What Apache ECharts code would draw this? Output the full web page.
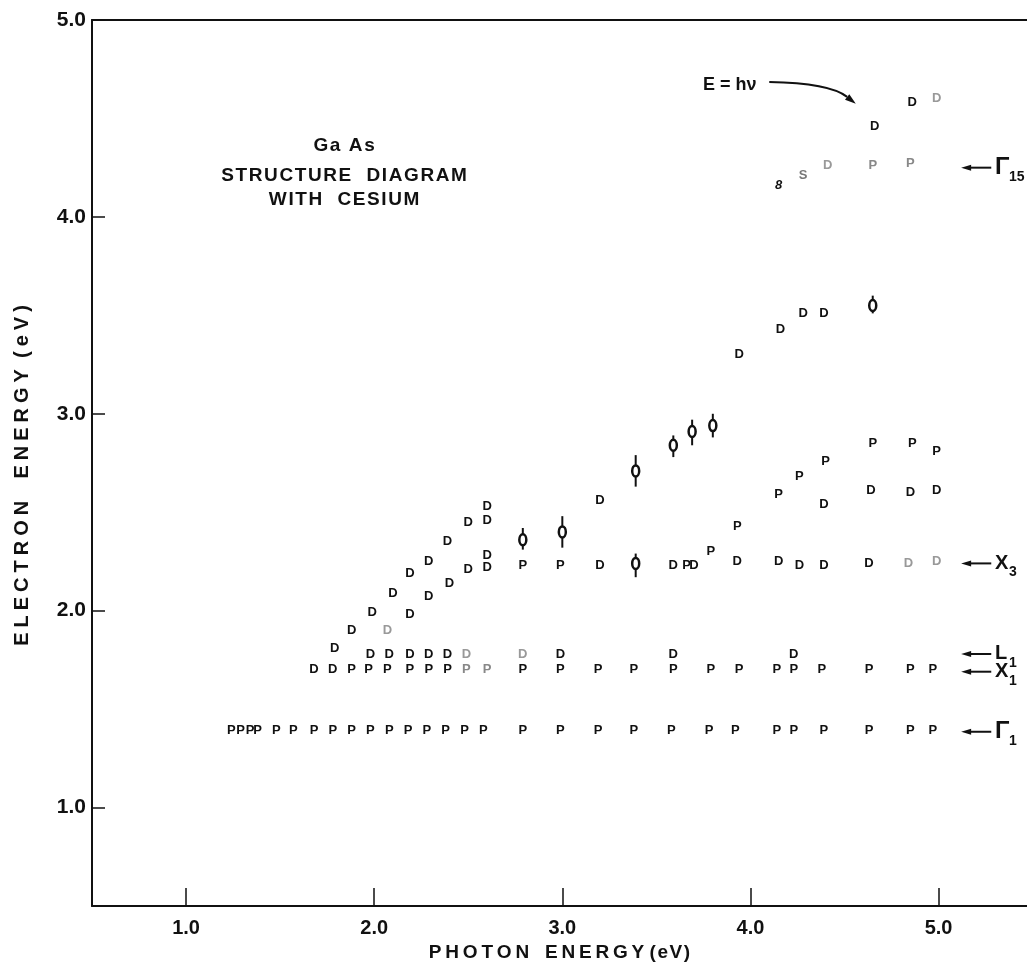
<!DOCTYPE html>
<html><head><meta charset="utf-8">
<script src="https://cdn.jsdelivr.net/npm/echarts@6/dist/echarts.min.js"></script>
<style>html,body{margin:0;padding:0;background:#fff}#c{width:1027px;height:969px}</style>
</head><body><div id="c"></div>
<script>
// ---- data ----
const xTicks = [1.0, 2.0, 3.0, 4.0, 5.0];
const yTicks = [1.0, 2.0, 3.0, 4.0, 5.0];

// "P" points (photoemission peaks)
const pPoints = [
  // Γ1 row
  [1.24,1.39],[1.29,1.39],[1.34,1.39],[1.38,1.39],[1.48,1.39],[1.57,1.39],[1.68,1.39],[1.78,1.39],
  [1.88,1.39],[1.98,1.39],[2.08,1.39],[2.18,1.39],[2.28,1.39],[2.38,1.39],[2.48,1.39],[2.58,1.39],
  [2.79,1.39],[2.99,1.39],[3.19,1.39],[3.38,1.39],[3.58,1.39],[3.78,1.39],[3.92,1.39],[4.14,1.39],
  [4.23,1.39],[4.39,1.39],[4.63,1.39],[4.85,1.39],[4.97,1.39],
  // X1 row
  [1.88,1.70],[1.97,1.70],[2.07,1.70],[2.19,1.70],[2.29,1.70],[2.39,1.70],
  [2.79,1.70],[2.99,1.70],[3.19,1.70],[3.38,1.70],[3.59,1.70],[3.79,1.70],[3.94,1.70],[4.14,1.70],
  [4.23,1.70],[4.38,1.70],[4.63,1.70],[4.85,1.70],[4.97,1.70],
  // X3 row
  [2.79,2.23],[2.99,2.23],[3.66,2.23],[3.79,2.30],
  // middle branch
  [3.93,2.43],[4.15,2.59],[4.26,2.68],[4.40,2.76],[4.65,2.85],[4.86,2.85],[4.99,2.81]
];
const pFaint = [[2.49,1.70],[2.60,1.70],[4.65,4.26],[4.85,4.27]];

// "D" points
const dPoints = [
  // upper rising branch
  [1.79,1.81],[1.88,1.90],[1.99,1.99],[2.10,2.09],[2.19,2.19],[2.29,2.25],[2.39,2.35],[2.50,2.45],[2.60,2.46],[2.60,2.53],
  // lower rising branch
  [2.19,1.98],[2.29,2.07],[2.40,2.14],[2.50,2.21],[2.60,2.22],[2.60,2.28],
  // X1 row
  [1.68,1.70],[1.78,1.70],
  // L1 row
  [1.98,1.78],[2.08,1.78],[2.19,1.78],[2.29,1.78],[2.39,1.78],[2.99,1.78],[3.59,1.78],[4.23,1.78],
  // X3 row
  [3.20,2.23],[3.59,2.23],[3.70,2.23],[3.93,2.25],[4.15,2.25],[4.26,2.23],[4.39,2.23],[4.63,2.24],
  // upper continuation
  [3.20,2.56],[3.94,3.30],[4.16,3.43],[4.28,3.51],[4.39,3.51],
  // middle branch
  [4.39,2.54],[4.64,2.61],[4.85,2.60],[4.99,2.61],
  // top
  [4.66,4.46],[4.86,4.58]
];
const dFaint = [[2.07,1.90],[2.49,1.78],[2.79,1.78],[4.84,2.24],[4.99,2.25],[4.99,4.60],[4.41,4.26]];

// points with error bars: [x, y, low, high]
const errPoints = [
  [2.79,2.36,2.31,2.42],[3.00,2.40,2.32,2.48],[3.39,2.71,2.63,2.79],[3.39,2.24,2.17,2.29],
  [3.59,2.84,2.78,2.89],[3.69,2.91,2.84,2.97],[3.80,2.94,2.88,3.00],[4.65,3.55,3.51,3.60]
];
// odd marks: [x, y, char]
const oddPoints = [[4.15,4.16,'8'],[4.28,4.21,'S']];

// level markers on the right: [y, symbol, subscript]
const levels = [[4.25,'Γ','15'],[2.24,'X','3'],[1.78,'L','1'],[1.69,'X','1'],[1.385,'Γ','1']];
const levelArrowX = [5.12, 5.28];
const levelTextX = 5.30;

// annotation text block
const notes = [[1.84,4.36,'Ga As'],[1.84,4.21,'STRUCTURE  DIAGRAM'],[1.84,4.085,'WITH  CESIUM']];
// E = hν label and its curved arrow (start, control, end)
const eLabel = [3.89, 4.67, 'E = hν'];
const eArrow = [[4.10,4.685],[4.42,4.68],[4.56,4.575]];

// ---- chart ----
const FONT = '"Liberation Sans", Arial, sans-serif';
const spread = (s, sp) => s.split('').join(sp);
const chart = echarts.init(document.getElementById('c'), null, {renderer:'canvas'});

function letterSeries(data, ch, color){
  return {
    type:'custom', data: data, silent:true, clip:false,
    renderItem:(p, api) => {
      const c = api.coord([api.value(0), api.value(1)]);
      return {type:'text', x:c[0], y:c[1],
        style:{text: ch, fill: color, fontFamily: FONT, fontSize: 13, fontWeight:'bold', align:'center', verticalAlign:'middle'}};
    }
  };
}

const option = {
  animation:false,
  backgroundColor:'#fff',
  grid:{left:92, right:0, top:20, bottom:63, containLabel:false},
  xAxis:[{
    type:'value', min:0.5, max:5.47, position:'bottom',
    axisLine:{show:true, lineStyle:{color:'#111', width:2}},
    axisTick:{show:true, inside:true, length:18, lineStyle:{color:'#111', width:1.5}, customValues: xTicks},
    axisLabel:{show:true, margin:12, color:'#111', fontFamily:FONT, fontSize:20, fontWeight:'bold',
      customValues: xTicks, formatter: v => v.toFixed(1)},
    splitLine:{show:false},
    name: spread('PHOTON', '\u2009') + '   ' + spread('ENERGY', '\u2009') + ' ' + spread('(eV)', '\u200A'),
    nameLocation:'middle', nameGap:35,
    nameTextStyle:{color:'#111', fontFamily:FONT, fontSize:19, fontWeight:'bold'}
  },{
    type:'value', min:0.5, max:5.47, position:'top',
    axisLine:{show:true, lineStyle:{color:'#111', width:2}},
    axisTick:{show:false}, axisLabel:{show:false}, splitLine:{show:false}
  }],
  yAxis:{
    type:'value', min:0.5, max:5.0,
    axisLine:{show:true, lineStyle:{color:'#111', width:2}},
    axisTick:{show:true, inside:true, length:13, lineStyle:{color:'#111', width:1.5}, customValues: yTicks},
    axisLabel:{show:true, margin:6, color:'#111', fontFamily:FONT, fontSize:21, fontWeight:'bold',
      customValues: yTicks, formatter: v => v.toFixed(1)},
    splitLine:{show:false},
    name: spread('ELECTRON', '\u2005') + '    ' + spread('ENERGY', '\u2005') + '  ' + spread('(eV)', '\u2005') + '\u2005\u2005\u2005\u2005\u2005',
    nameLocation:'middle', nameGap:60, nameRotate:90,
    nameTextStyle:{color:'#111', fontFamily:FONT, fontSize:20, fontWeight:'bold'}
  },
  series:[
    letterSeries(pPoints, 'P', '#111'),
    letterSeries(pFaint, 'P', '#888'),
    letterSeries(dPoints, 'D', '#111'),
    letterSeries(dFaint, 'D', '#999'),
    {
      type:'custom', data: oddPoints.map(d => [d[0], d[1]]), silent:true, clip:false,
      renderItem:(p, api) => {
        const c = api.coord([api.value(0), api.value(1)]);
        return {type:'text', x:c[0], y:c[1],
          style:{text: oddPoints[p.dataIndex][2], fill: p.dataIndex === 0 ? '#111' : '#777', fontFamily: FONT,
            fontSize: 13, fontWeight:'bold', fontStyle: p.dataIndex === 0 ? 'italic' : 'normal', align:'center', verticalAlign:'middle'}};
      }
    },
    {
      type:'custom', data: errPoints, silent:true, clip:false,
      renderItem:(p, api) => {
        const c = api.coord([api.value(0), api.value(1)]);
        const lo = api.coord([api.value(0), api.value(2)]);
        const hi = api.coord([api.value(0), api.value(3)]);
        return {type:'group', children:[
          {type:'line', shape:{x1:c[0], y1:hi[1], x2:c[0], y2:lo[1]}, style:{stroke:'#111', lineWidth:2}},
          {type:'ellipse', shape:{cx:c[0], cy:c[1], rx:3.5, ry:5.5}, style:{fill:'#fff', stroke:'#111', lineWidth:2.5}}
        ]};
      }
    },
    {
      type:'custom', data: levels.map(l => [levelTextX, l[0]]), silent:true, clip:false,
      renderItem:(p, api) => {
        const lv = levels[p.dataIndex];
        const a = api.coord([levelArrowX[0], lv[0]]);
        const b = api.coord([levelArrowX[1], lv[0]]);
        const t = api.coord([levelTextX, lv[0]]);
        const big = lv[1] === 'Γ';
        return {type:'group', children:[
          {type:'line', shape:{x1:a[0]+6, y1:a[1], x2:b[0], y2:b[1]}, style:{stroke:'#111', lineWidth:2}},
          {type:'polygon', shape:{points:[[a[0],a[1]],[a[0]+10,a[1]-3],[a[0]+10,a[1]+3]]}, style:{fill:'#111'}},
          {type:'text', x:t[0], y:t[1], style:{text: lv[1], fill:'#111', fontFamily:FONT, fontSize: big ? 24 : 20,
            fontWeight:'bold', align:'left', verticalAlign:'middle'}},
          {type:'text', x:t[0] + 14, y:t[1] + 9, style:{text: lv[2], fill:'#111', fontFamily:FONT,
            fontSize: 14, fontWeight:'bold', align:'left', verticalAlign:'middle'}}
        ]};
      }
    },
    {
      type:'custom', data: notes.map(n => [n[0], n[1]]), silent:true, clip:false,
      renderItem:(p, api) => {
        const c = api.coord([api.value(0), api.value(1)]);
        return {type:'text', x:c[0], y:c[1], style:{text: spread(notes[p.dataIndex][2], '\u200A'), fill:'#111', fontFamily:FONT,
          fontSize:19, fontWeight:'bold', align:'center', verticalAlign:'middle'}};
      }
    },
    {
      type:'custom', data: [[eLabel[0], eLabel[1]]], silent:true, clip:false,
      renderItem:(p, api) => {
        const c = api.coord([eLabel[0], eLabel[1]]);
        const s = api.coord(eArrow[0]);
        const cp = api.coord(eArrow[1]);
        const e = api.coord(eArrow[2]);
        const ang = Math.atan2(e[1]-cp[1], e[0]-cp[0]);
        const L = 11, W = 3.5;
        const bx = e[0] - L*Math.cos(ang), by = e[1] - L*Math.sin(ang);
        return {type:'group', children:[
          {type:'text', x:c[0], y:c[1], style:{text: eLabel[2], fill:'#111', fontFamily:FONT, fontSize:18,
            fontWeight:'bold', align:'center', verticalAlign:'middle'}},
          {type:'bezierCurve', shape:{x1:s[0], y1:s[1], x2:bx, y2:by, cpx1:cp[0], cpy1:cp[1]},
            style:{stroke:'#111', lineWidth:2, fill:null}},
          {type:'polygon', shape:{points:[[e[0],e[1]],
            [bx + W*Math.sin(ang), by - W*Math.cos(ang)], [bx - W*Math.sin(ang), by + W*Math.cos(ang)]]},
            style:{fill:'#111'}}
        ]};
      }
    }
  ]
};
chart.setOption(option);
</script>
</body></html>
